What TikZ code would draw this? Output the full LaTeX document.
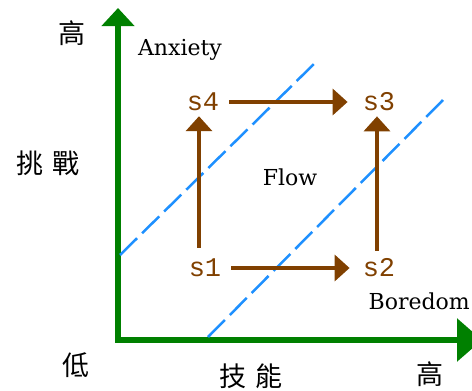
\documentclass[tikz,border=0pt]{standalone}
\usepackage{fontspec}
\setmainfont{DejaVu Serif}
\setmonofont{Liberation Mono}
\newfontfamily\cjk{Noto Sans CJK TC}
\usetikzlibrary{arrows.meta}
\definecolor{caxis}{HTML}{008000}
\definecolor{cbrown}{HTML}{804000}
\definecolor{cblue}{HTML}{1E90FF}

\begin{document}
\begin{tikzpicture}[
  x=1pt, y=-1pt,
  axislabel/.style={font=\cjk\fontsize{27}{27}\selectfont, inner sep=0pt},
  zonelabel/.style={font=\fontsize{22}{22}\selectfont, inner sep=0pt},
  state/.style={cbrown, font=\ttfamily\fontsize{27}{27}\selectfont, inner sep=0pt},
  move/.style={draw=cbrown, line width=4pt, -{Triangle[width=26pt, length=15pt]}},
  channel/.style={draw=cblue, line width=2.5pt, dash pattern=on 24pt off 7pt}
]
\useasboundingbox (0,0) rectangle (472,391);

% ============================================================
% Axes
% ============================================================
\draw[caxis, line width=6pt,
  arrows={Triangle[width=32pt, length=18pt]-Triangle[width=42pt, length=25pt]}]
  (118,8) -- (118,340) -- (482,340);

\node[axislabel] (yhigh) at (72,33) {高};
\node[axislabel] (ymid) at (48,163) {挑\hspace{9pt}戰};
\node[axislabel] (ylow) at (76,365) {低};
\node[axislabel] (xmid) at (251,376) {技\hspace{9pt}能};
\node[axislabel] (xhigh) at (430,374) {高};

% ============================================================
% Flow channel
% ============================================================
\draw[channel] (120,255) -- (318,60);
\draw[channel] (208,337) -- (443,100);

\node[zonelabel] (anxiety) at (180,50) {Anxiety};
\node[zonelabel] (flow) at (290,177) {Flow};
\node[zonelabel, anchor=east] (boredom) at (470,301) {Boredom};

% ============================================================
% States
% ============================================================
\node[state] (s1) at (205,268) {s1};
\node[state] (s2) at (379,268) {s2};
\node[state] (s3) at (379,102) {s3};
\node[state] (s4) at (203,102) {s4};

\draw[move] ([xshift=10pt]s1.east) -- ([xshift=-13pt]s2.west);
\draw[move] ([xshift=10pt]s4.east) -- ([xshift=-15pt]s3.west);
\draw[move] ([xshift=-6pt, yshift=11pt]s1.north) -- ([xshift=-4pt, yshift=-5pt]s4.south);
\draw[move] ([xshift=-2pt, yshift=8pt]s2.north) -- ([xshift=-2pt, yshift=-5pt]s3.south);

\end{tikzpicture}
\end{document}
